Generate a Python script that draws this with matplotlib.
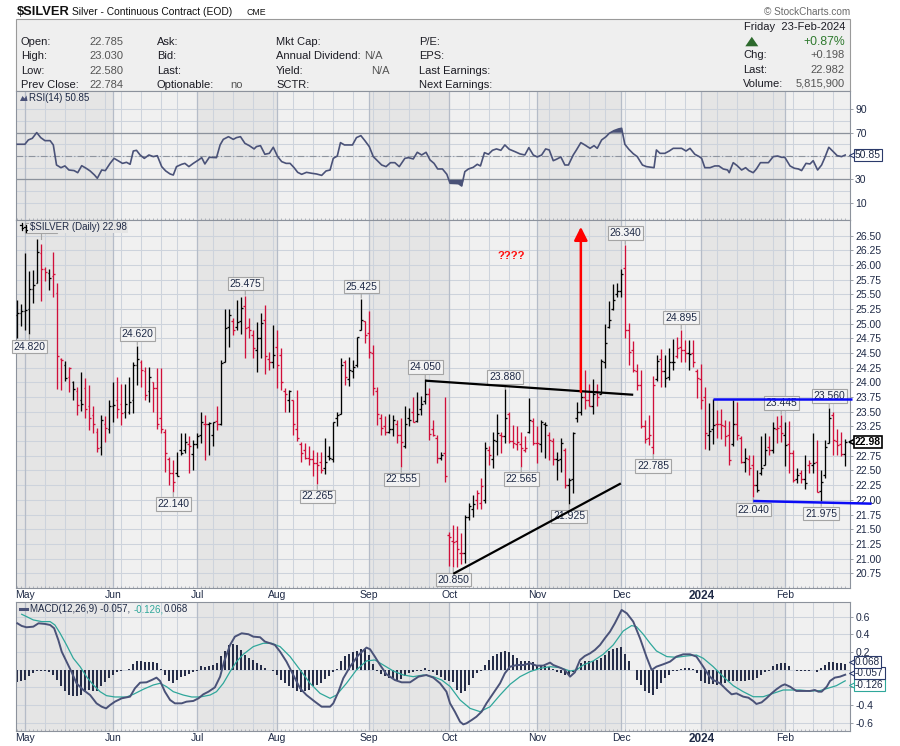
import numpy as np
import pandas as pd
import matplotlib
matplotlib.use("Agg")
import matplotlib.pyplot as plt
import matplotlib.transforms as mtransforms
from matplotlib.collections import LineCollection
from matplotlib.patches import Rectangle, Polygon
from matplotlib.lines import Line2D

plt.rcParams['font.family'] = ['Liberation Sans', 'DejaVu Sans']

# ---------------------------------------------------------------- data
holidays = ['2023-05-29', '2023-06-19', '2023-07-04', '2023-09-04', '2023-11-23',
            '2023-12-25', '2024-01-01', '2024-01-15', '2024-02-19']
first_day, last_day = '2023-04-27', '2024-02-23'

bar_open = [
    25.15, 25.18, 25.22, 25.25, 25.60, 25.70, 26.20, 25.94, 25.86, 25.82,
    25.53, 24.40, 24.30, 24.10, 24.00, 23.85, 23.70, 23.90, 23.60, 23.45,
    23.15, 22.90, 23.30, 23.20, 23.60, 23.70, 23.64, 23.50, 23.50, 23.70,
    24.30, 24.35, 24.20, 23.85, 24.00, 23.90, 23.40, 23.15, 22.70, 22.45,
    22.45, 22.85, 22.85, 22.95, 22.78, 22.95, 23.10, 23.30, 23.30, 23.10,
    23.35, 23.29, 24.35, 24.95, 25.05, 24.95, 25.05, 25.30, 24.95, 24.80,
    24.55, 24.75, 25.06, 24.40, 24.35, 24.60, 24.47, 23.85, 23.70, 23.70,
    23.20, 22.95, 22.85, 22.72, 22.70, 22.62, 22.65, 22.55, 22.75, 22.70,
    23.40, 23.47, 24.35, 24.05, 24.20, 24.30, 24.90, 25.05, 24.85, 24.50,
    23.85, 23.40, 23.25, 23.15, 23.20, 23.30, 23.10, 22.91, 23.40, 23.50,
    23.35, 23.55, 23.68, 23.80, 23.20, 23.05, 22.72, 22.80, 21.40, 21.30,
    21.30, 21.10, 21.10, 21.70, 21.85, 22.00, 21.95, 22.00, 22.85, 22.70,
    23.00, 23.10, 23.08, 23.46, 23.00, 22.95, 22.95, 22.85, 23.15, 23.35,
    22.96, 22.95, 23.30, 23.10, 23.00, 22.70, 22.70, 22.85, 22.25, 22.35,
    23.40, 23.50, 23.75, 23.70, 23.60, 23.85, 23.80, 24.35, 24.95, 25.25,
    25.50, 25.55, 25.95, 24.90, 24.55, 24.20, 23.95, 23.25, 23.05, 22.90,
    24.05, 24.40, 24.20, 24.10, 24.35, 24.45, 24.60, 24.55, 24.50, 24.50,
    24.20, 24.05, 23.75, 23.10, 23.20, 23.30, 23.30, 23.25, 23.10, 22.95,
    23.30, 23.05, 22.65, 22.70, 22.60, 22.25, 22.45, 22.60, 22.90, 22.85,
    23.20, 23.25, 23.10, 22.95, 22.80, 22.35, 22.45, 22.35, 22.60, 22.60,
    22.65, 22.15, 22.43, 22.96, 23.45, 23.00, 22.95, 22.785]
bar_high = [
    25.40, 25.33, 26.21, 25.89, 25.91, 26.44, 26.35, 25.97, 25.93, 26.22,
    25.69, 24.42, 24.37, 24.27, 24.03, 23.93, 24.18, 24.07, 23.95, 23.60,
    23.23, 23.45, 23.42, 23.70, 24.00, 24.10, 23.98, 23.98, 24.10, 24.35,
    24.62, 24.38, 24.27, 24.27, 24.01, 24.24, 24.24, 23.20, 22.73, 22.68,
    22.82, 23.13, 23.13, 23.08, 23.02, 23.13, 23.50, 23.45, 23.33, 23.33,
    23.59, 24.38, 25.25, 25.25, 25.09, 25.40, 25.46, 25.475, 25.09, 24.89,
    25.03, 25.18, 25.32, 24.52, 24.98, 24.89, 24.58, 23.90, 23.87, 23.70,
    23.87, 22.99, 22.96, 22.91, 22.85, 22.82, 22.82, 23.05, 22.91, 23.33,
    23.50, 24.41, 24.38, 24.44, 24.38, 24.78, 25.425, 25.05, 25.22, 24.64,
    23.93, 23.47, 23.42, 23.47, 23.45, 23.36, 23.40, 23.59, 23.56, 23.75,
    23.84, 23.77, 24.05, 23.91, 23.36, 23.10, 22.82, 23.75, 21.46, 21.57,
    21.56, 21.43, 21.74, 21.94, 22.08, 22.17, 22.37, 22.99, 22.91, 23.16,
    23.47, 23.16, 23.88, 23.49, 23.28, 23.25, 23.16, 23.08, 23.74, 23.39,
    23.25, 23.36, 23.33, 23.16, 23.05, 22.82, 23.05, 22.88, 22.37, 23.16,
    23.67, 23.85, 24.22, 23.98, 24.06, 23.98, 24.40, 25.00, 25.38, 25.67,
    25.69, 25.94, 26.34, 25.01, 24.70, 24.31, 24.21, 23.36, 23.44, 24.11,
    24.47, 24.57, 24.47, 24.58, 24.74, 24.78, 24.895, 24.72, 24.72, 24.72,
    24.23, 24.31, 23.93, 23.65, 23.72, 23.53, 23.54, 23.36, 23.35, 23.70,
    23.67, 23.09, 22.88, 22.76, 22.76, 22.51, 23.08, 23.14, 23.08, 23.33,
    23.42, 23.445, 23.33, 23.35, 22.85, 22.54, 22.51, 22.76, 22.68, 23.13,
    23.02, 22.51, 23.02, 23.56, 23.50, 23.20, 23.16, 23.03]
bar_low = [
    24.75, 24.96, 24.90, 24.82, 25.35, 25.69, 25.39, 25.72, 25.57, 25.46,
    23.88, 23.87, 24.03, 23.84, 23.70, 23.45, 23.52, 23.40, 23.19, 23.13,
    22.82, 22.76, 22.99, 23.13, 23.33, 23.40, 23.27, 23.39, 23.47, 23.48,
    23.95, 23.93, 23.70, 23.67, 23.50, 23.20, 23.13, 22.48, 22.25, 22.14,
    22.40, 22.76, 22.79, 22.45, 22.51, 22.88, 22.96, 22.68, 22.76, 22.91,
    23.19, 23.27, 24.35, 24.60, 24.81, 24.90, 24.83, 24.41, 24.75, 24.41,
    24.18, 24.41, 24.15, 24.21, 24.24, 23.90, 23.87, 23.50, 23.50, 23.10,
    23.00, 22.65, 22.70, 22.59, 22.40, 22.265, 22.45, 22.44, 22.68, 22.65,
    23.25, 23.47, 23.95, 23.94, 24.07, 24.27, 24.89, 24.67, 24.41, 23.78,
    23.28, 23.11, 23.11, 23.13, 23.08, 22.97, 22.555, 22.88, 23.25, 23.32,
    23.33, 23.45, 23.64, 23.02, 23.08, 22.62, 22.68, 22.30, 20.88, 20.85,
    20.86, 20.90, 20.92, 21.66, 21.71, 21.85, 21.85, 21.94, 22.59, 22.54,
    22.76, 22.79, 22.96, 22.96, 22.88, 22.85, 22.565, 22.82, 23.13, 22.93,
    22.62, 22.82, 22.71, 22.68, 22.60, 22.34, 22.48, 22.20, 21.925, 22.11,
    23.33, 23.45, 23.55, 23.59, 23.47, 23.60, 23.80, 24.25, 24.92, 25.23,
    25.46, 25.46, 24.76, 24.30, 24.18, 23.87, 23.22, 22.96, 22.93, 22.785,
    24.02, 23.93, 23.93, 24.04, 24.21, 24.41, 24.35, 24.35, 24.21, 24.27,
    23.73, 23.54, 22.86, 22.85, 22.95, 23.05, 23.03, 22.91, 22.60, 22.91,
    23.02, 22.62, 22.48, 22.42, 22.04, 22.14, 22.42, 22.59, 22.76, 22.79,
    22.96, 22.99, 22.57, 22.45, 22.31, 22.28, 22.28, 22.18, 22.45, 22.45,
    22.14, 21.975, 22.37, 22.96, 22.77, 22.77, 22.74, 22.58]
bar_close = [
    25.19, 25.21, 25.24, 25.59, 25.66, 26.22, 25.94, 25.88, 25.78, 25.85,
    24.45, 24.39, 24.08, 24.24, 23.89, 23.62, 23.63, 23.55, 23.39, 23.30,
    22.88, 23.36, 23.22, 23.59, 23.62, 23.55, 23.48, 23.64, 23.66, 24.30,
    24.40, 24.22, 23.79, 24.10, 23.90, 23.30, 23.20, 22.79, 22.45, 22.31,
    22.41, 22.80, 22.99, 22.91, 22.95, 23.09, 23.33, 23.30, 23.31, 23.32,
    23.30, 24.33, 24.93, 25.15, 24.89, 25.03, 25.26, 24.92, 24.90, 24.58,
    24.75, 25.02, 24.45, 24.35, 24.47, 24.30, 24.00, 23.81, 23.85, 23.30,
    23.05, 22.79, 22.72, 22.70, 22.63, 22.60, 22.51, 22.65, 22.72, 23.33,
    23.45, 24.30, 24.10, 24.21, 24.27, 24.77, 25.06, 24.81, 24.52, 23.91,
    23.47, 23.23, 23.16, 23.20, 23.36, 23.10, 22.99, 23.30, 23.36, 23.33,
    23.47, 23.64, 23.80, 23.12, 23.10, 22.71, 22.77, 22.41, 21.37, 21.29,
    21.16, 21.09, 21.70, 21.90, 21.93, 22.11, 22.23, 22.89, 22.76, 23.02,
    23.13, 23.08, 23.40, 23.00, 22.96, 22.99, 22.88, 22.88, 23.36, 22.96,
    22.96, 23.33, 23.27, 23.02, 22.69, 22.68, 22.96, 22.25, 22.34, 23.13,
    23.50, 23.75, 23.70, 23.60, 23.80, 23.75, 24.37, 24.67, 25.06, 25.40,
    25.56, 25.84, 24.89, 24.52, 24.21, 23.95, 23.25, 23.03, 23.10, 23.95,
    24.37, 24.20, 24.07, 24.35, 24.35, 24.58, 24.55, 24.50, 24.48, 24.35,
    24.07, 23.70, 23.14, 23.18, 23.27, 23.29, 23.27, 23.08, 22.68, 23.30,
    23.10, 22.65, 22.71, 22.55, 22.25, 22.17, 22.54, 22.85, 22.85, 23.22,
    23.22, 23.13, 22.93, 22.79, 22.34, 22.42, 22.35, 22.28, 22.62, 22.62,
    22.14, 22.30, 22.90, 23.40, 23.02, 22.93, 22.784, 22.982]
bar_color = ("bbbbbbrrbr" "rrbrbrbrrr" "rbrbbrrbbb" "brrbrrrrrr" "bbbrbbbrbb"
             "rbbbrbbrrr" "bbrrbrrrbr" "rrrrrrrbbb" "bbrbbbbrrr" "rrrbbrrbbr"
             "bbbrrrbrrr" "rrbbbrrbrb" "brbrrrrrbr" "rbbrrbbrbb" "bbrrbrbbbb"
             "bbrrrrrrrr" "brbbbrrrbr" "rrrbbrrrrb" "rrbrrbbbrb" "rrbrrbrbrb"
             "rbbbrrrb")

label_high_bars = [30, 57, 86, 102, 122, 152, 166, 191, 203]
label_low_bars = [3, 39, 75, 96, 109, 126, 138, 159, 184, 201]

rsi_pts = [
    (0.0, 60.1), (1.9, 60.1), (2.75, 63.8), (3.75, 65.2), (4.85, 70.1), (5.85, 65.8),
    (6.9, 63.2), (8.2, 63.2), (9.0, 59.5), (9.8, 42.3), (10.9, 40.0), (11.9, 41.5),
    (12.9, 38.0), (14.2, 37.5), (15.1, 35.7), (16.1, 41.7), (17.2, 39.5), (18.2, 37.2),
    (19.3, 33.7), (20.0, 30.9), (21.1, 38.0), (22.0, 37.5), (23.2, 43.7), (24.2, 48.0),
    (25.3, 45.7), (26.3, 43.7), (27.3, 44.6), (28.2, 42.9), (29.0, 54.3), (29.8, 54.9),
    (30.7, 50.9), (31.75, 48.0), (32.9, 50.9), (34.0, 49.5), (35.0, 50.3), (36.1, 40.9),
    (37.1, 37.2), (38.2, 34.6), (39.0, 33.7), (39.8, 40.9), (41.1, 42.9), (41.9, 43.7),
    (42.9, 40.9), (44.0, 43.7), (45.3, 46.6), (46.1, 48.6), (46.9, 43.2), (48.0, 48.9),
    (49.8, 48.6), (50.7, 59.5), (51.5, 64.3), (52.8, 66.6), (54.0, 64.3), (54.8, 65.8),
    (55.8, 66.6), (56.9, 60.9), (58.0, 58.9), (59.2, 56.1), (59.8, 58.1), (60.8, 58.9),
    (61.9, 51.5), (63.0, 52.3), (64.0, 57.5), (65.1, 49.5), (66.1, 45.2), (67.2, 43.7),
    (68.2, 43.7), (69.2, 40.0), (70.1, 36.0), (71.1, 34.3), (72.3, 36.0), (73.6, 35.2),
    (74.8, 34.6), (76.1, 33.4), (77.2, 37.2), (78.2, 38.0), (79.0, 48.0), (80.0, 50.0),
    (80.8, 61.5), (81.8, 59.5), (83.8, 59.5), (84.8, 65.8), (85.9, 67.5), (86.9, 63.2),
    (88.0, 58.1), (89.0, 49.5), (90.1, 45.7), (91.1, 42.3), (92.2, 40.9), (93.3, 44.3),
    (94.4, 44.3), (95.5, 40.9), (96.9, 48.0), (97.8, 48.6), (99.0, 47.5), (100.0, 53.2),
    (101.1, 50.9), (102.2, 53.2), (103.2, 46.6), (104.2, 43.7), (105.1, 38.9), (106.3, 38.9),
    (107.4, 34.3), (108.2, 26.6), (110.3, 26.3), (111.1, 24.3), (111.9, 36.6), (112.8, 38.9),
    (114.0, 40.3), (115.0, 42.9), (115.8, 41.5), (116.8, 52.9), (117.8, 51.5), (118.8, 54.9),
    (119.8, 56.1), (120.9, 54.9), (121.9, 59.5), (123.0, 55.8), (124.4, 53.8), (125.7, 51.8),
    (126.9, 50.9), (127.9, 57.2), (129.0, 50.9), (130.0, 49.2), (131.1, 50.9), (132.1, 56.1),
    (133.0, 55.2), (134.0, 46.0), (134.8, 47.2), (135.9, 49.2), (136.9, 42.3), (137.8, 42.3),
    (139.0, 50.9), (139.8, 55.2), (140.9, 61.5), (141.9, 59.5), (143.2, 56.6), (144.2, 58.9),
    (145.0, 56.6), (146.1, 63.8), (147.2, 66.6), (148.0, 69.5), (149.2, 71.8), (150.3, 73.2),
    (151.1, 73.8), (151.9, 60.1), (152.9, 55.8), (154.0, 52.0), (155.0, 49.5), (156.3, 42.3),
    (157.3, 40.9), (158.6, 40.3), (159.2, 40.0), (159.8, 55.2), (160.7, 52.3), (161.9, 52.3),
    (163.0, 54.3), (164.0, 56.6), (166.1, 56.6), (167.2, 54.3), (168.2, 56.6), (169.4, 51.5),
    (170.5, 49.5), (171.1, 48.0), (171.9, 40.0), (173.2, 40.0), (174.4, 41.5), (175.4, 41.5),
    (176.5, 38.9), (177.6, 38.0), (178.0, 35.7), (179.0, 44.3), (180.0, 41.7), (181.1, 38.0),
    (182.1, 40.0), (182.9, 37.5), (184.0, 35.7), (184.8, 38.9), (185.8, 44.3), (187.8, 44.3),
    (189.0, 49.5), (190.1, 50.0), (191.1, 48.9), (191.9, 48.9), (193.2, 41.5), (194.3, 39.5),
    (195.3, 38.9), (196.1, 37.5), (197.2, 43.7), (198.2, 43.2), (199.0, 46.0), (200.1, 38.0),
    (201.1, 42.3), (201.9, 48.6), (202.9, 57.5), (204.0, 53.8), (205.0, 50.3), (206.1, 49.5),
    (207.0, 50.85)]

macd_pts = [
    (0.0, 0.525), (1.1, 0.495), (2.3, 0.480), (4.0, 0.487), (5.3, 0.525), (6.9, 0.518),
    (8.2, 0.506), (9.2, 0.469), (10.25, 0.336), (11.1, 0.204), (12.3, 0.091), (13.6, -0.030),
    (14.8, -0.154), (16.5, -0.230), (18.2, -0.287), (19.8, -0.381), (21.1, -0.419), (22.2, -0.438),
    (23.2, -0.400), (24.4, -0.362), (26.1, -0.324), (28.2, -0.305), (29.4, -0.211), (30.7, -0.147),
    (32.3, -0.143), (33.6, -0.117), (34.8, -0.090), (35.7, -0.128), (36.9, -0.249), (38.2, -0.343),
    (39.4, -0.381), (41.1, -0.381), (42.3, -0.362), (44.0, -0.354), (45.3, -0.324), (46.5, -0.279),
    (47.8, -0.249), (49.4, -0.200), (50.7, -0.079), (51.7, 0.091), (53.2, 0.280), (54.4, 0.374),
    (56.1, 0.412), (57.8, 0.401), (59.0, 0.374), (60.7, 0.367), (61.9, 0.318), (63.2, 0.299),
    (64.4, 0.280), (65.7, 0.204), (67.3, 0.091), (69.0, -0.060), (70.7, -0.211), (72.3, -0.287),
    (74.4, -0.362), (76.1, -0.419), (78.2, -0.419), (79.0, -0.381), (80.3, -0.249), (81.5, -0.098),
    (83.2, 0.034), (85.3, 0.166), (87.3, 0.250), (88.2, 0.231), (89.4, 0.148), (90.7, 0.053),
    (92.3, -0.052), (94.4, -0.117), (96.1, -0.143), (98.2, -0.143), (100.3, -0.079), (102.3, -0.060),
    (104.0, -0.090), (105.7, -0.154), (107.3, -0.249), (108.2, -0.381), (109.4, -0.475), (110.7, -0.589),
    (111.5, -0.619), (112.3, -0.607), (113.6, -0.570), (114.8, -0.532), (116.1, -0.475), (117.3, -0.381),
    (119.0, -0.268), (120.7, -0.154), (121.9, -0.041), (123.2, 0.034), (124.9, 0.053), (126.5, 0.053),
    (128.2, 0.072), (129.8, 0.046), (131.5, 0.046), (133.2, 0.080), (134.0, 0.053), (135.7, 0.023),
    (136.9, -0.003), (138.2, -0.079), (139.4, -0.030), (140.7, 0.110), (141.9, 0.155), (143.2, 0.185),
    (144.4, 0.223), (145.7, 0.280), (146.9, 0.355), (148.2, 0.431), (149.4, 0.525), (151.1, 0.676),
    (152.4, 0.638), (154.0, 0.544), (155.7, 0.355), (157.3, 0.148), (158.6, -0.003), (159.8, 0.034),
    (161.5, 0.061), (163.2, 0.091), (164.8, 0.148), (166.5, 0.174), (168.2, 0.174), (169.8, 0.148),
    (171.5, 0.034), (172.8, -0.060), (174.0, -0.117), (175.7, -0.154), (177.4, -0.230), (178.6, -0.279),
    (179.8, -0.268), (181.5, -0.305), (182.8, -0.317), (184.0, -0.355), (184.8, -0.388), (186.1, -0.370),
    (187.3, -0.324), (188.6, -0.268), (189.8, -0.222), (191.1, -0.181), (191.9, -0.166), (193.2, -0.192),
    (194.8, -0.241), (196.5, -0.241), (198.2, -0.241), (199.4, -0.230), (200.3, -0.249), (201.1, -0.249),
    (202.4, -0.192), (203.2, -0.128), (204.4, -0.090), (205.7, -0.079), (207.0, -0.057)]

signal_pts = [
    (1.1, 0.627), (2.3, 0.601), (4.0, 0.563), (6.1, 0.544), (8.2, 0.544), (9.4, 0.506),
    (10.7, 0.412), (12.3, 0.280), (14.0, 0.129), (15.7, 0.034), (17.3, -0.079), (19.0, -0.173),
    (20.7, -0.249), (22.3, -0.294), (24.4, -0.309), (27.3, -0.309), (29.0, -0.279), (31.5, -0.222),
    (34.0, -0.173), (35.7, -0.154), (37.3, -0.192), (39.0, -0.249), (41.5, -0.287), (43.6, -0.309),
    (45.7, -0.309), (48.2, -0.287), (49.8, -0.249), (51.5, -0.154), (53.2, -0.022), (54.8, 0.091),
    (56.5, 0.174), (59.0, 0.261), (61.5, 0.299), (63.6, 0.299), (65.7, 0.261), (68.2, 0.148),
    (70.7, -0.003), (73.2, -0.154), (75.7, -0.268), (78.2, -0.324), (79.8, -0.287), (82.3, -0.154),
    (84.8, -0.003), (87.3, 0.099), (89.4, 0.110), (91.5, 0.053), (94.0, -0.015), (96.5, -0.060),
    (99.0, -0.079), (101.5, -0.060), (104.0, -0.079), (106.1, -0.117), (108.2, -0.190),
    (110.7, -0.343), (113.2, -0.438), (115.7, -0.475), (118.2, -0.419), (120.7, -0.287),
    (123.2, -0.166), (125.7, -0.079), (128.2, -0.022), (130.7, 0.015), (133.2, 0.034),
    (135.7, 0.023), (138.2, -0.015), (139.8, -0.003), (141.5, 0.053), (144.0, 0.099),
    (146.5, 0.174), (149.0, 0.280), (151.5, 0.438), (153.6, 0.499), (154.8, 0.487),
    (156.5, 0.401), (158.2, 0.299), (159.8, 0.212), (162.4, 0.148), (164.8, 0.140),
    (167.3, 0.155), (169.8, 0.166), (171.5, 0.129), (174.0, 0.034), (176.5, -0.079),
    (179.0, -0.181), (181.5, -0.249), (184.0, -0.306), (186.5, -0.306), (189.0, -0.268),
    (191.5, -0.230), (193.2, -0.230), (195.7, -0.230), (198.2, -0.241), (200.7, -0.237),
    (203.2, -0.203), (204.8, -0.181), (207.0, -0.126)]

hist_vals = [
    -0.140, -0.132, -0.113, -0.075, -0.038, -0.019, -0.011, -0.019, -0.026, -0.057,
    -0.113, -0.189, -0.245, -0.283, -0.302, -0.302, -0.283, -0.253, -0.227, -0.245,
    -0.245, -0.189, -0.140, -0.094, -0.057, -0.030, -0.011, -0.004, 0.011, 0.064,
    0.102, 0.094, 0.083, 0.083, 0.083, 0.075, 0.011, -0.057, -0.125, -0.151,
    -0.113, -0.087, -0.068, -0.045, -0.026, -0.011, 0.038, 0.026, 0.038, 0.049,
    0.075, 0.151, 0.215, 0.276, 0.291, 0.283, 0.227, 0.170, 0.132, 0.113,
    0.075, 0.057, 0.019, 0.002, -0.011, -0.057, -0.113, -0.151, -0.189, -0.208,
    -0.245, -0.253, -0.245, -0.227, -0.189, -0.170, -0.151, -0.102, -0.075, -0.026,
    0.008, 0.102, 0.151, 0.177, 0.200, 0.215, 0.238, 0.238, 0.170, 0.064,
    -0.019, -0.045, -0.075, -0.094, -0.094, -0.113, -0.102, -0.075, -0.038, -0.026,
    -0.019, -0.011, 0.019, -0.011, -0.026, -0.057, -0.087, -0.113, -0.125, -0.140,
    -0.227, -0.264, -0.245, -0.170, -0.094, -0.038, -0.011, 0.057, 0.113, 0.151,
    0.177, 0.200, 0.215, 0.200, 0.162, 0.132, 0.102, 0.094, 0.102, 0.083,
    0.057, 0.049, 0.038, 0.026, 0.011, -0.026, -0.038, -0.057, -0.064, -0.026,
    0.019, 0.075, 0.094, 0.094, 0.102, 0.113, 0.132, 0.170, 0.208, 0.238,
    0.245, 0.253, 0.177, 0.094, 0.002, -0.113, -0.170, -0.245, -0.264, -0.283,
    -0.215, -0.151, -0.094, -0.057, -0.019, -0.011, 0.011, 0.019, 0.019, 0.011,
    -0.038, -0.125, -0.151, -0.162, -0.162, -0.170, -0.177, -0.151, -0.125, -0.132,
    -0.125, -0.125, -0.125, -0.113, -0.113, -0.094, -0.057, -0.026, -0.011, 0.038,
    0.064, 0.075, 0.075, 0.038, 0.002, -0.011, -0.019, -0.019, -0.011, 0.002,
    -0.026, 0.019, 0.057, 0.087, 0.083, 0.075, 0.075, 0.068]

price_ticks = [20.75, 21.00, 21.25, 21.50, 21.75, 22.00, 22.25, 22.50, 22.75, 23.00, 23.25,
               23.50, 23.75, 24.00, 24.25, 24.50, 24.75, 25.00, 25.25, 25.50, 25.75, 26.00,
               26.25, 26.50]
rsi_ticks = [10, 30, 70, 90]
macd_ticks = [-0.6, -0.4, -0.2, 0.2, 0.4, 0.6]

# trend / annotation lines (bar index, price)
resist_line = [(102, 24.03), (154.0, 23.79)]
support_line = [(109.0, 20.74), (150.9, 22.28)]
range_top = [(174.0, 23.71), (208.6, 23.71)]
range_bottom = [(184.0, 21.98), (213.6, 21.935)]
red_arrow = [(140.9, 23.84), (140.9, 26.65)]
question_pos = (123.4, 26.16)

last_price_txt, rsi_last_txt = '22.98', '50.85'
macd_last = (-0.057, -0.126, 0.068)

hdr_col1 = ['Open:', 'High:', 'Low:', 'Prev Close:']
hdr_col1_vals = ['22.785', '23.030', '22.580', '22.784']
hdr_col2 = ['Ask:', 'Bid:', 'Last:', 'Optionable:']
hdr_col3 = ['Mkt Cap:', 'Annual Dividend:', 'Yield:', 'SCTR:']
hdr_col4 = ['P/E:', 'EPS:', 'Last Earnings:', 'Next Earnings:']

assert len(bar_open) == len(bar_high) == len(bar_low) == len(bar_close) == len(bar_color) == len(hist_vals) == 208

# ---------------------------------------------------------------- style
W, H = 900, 746
NAVY = '#1f2a46'
GRID = '#cdd3dc'
MGRID = '#b5bcc8'
SPINE = '#8c929c'
BG = '#f0f0f0'
BAND = '#e5e5e5'
RED = '#d00f3a'
SLATE = '#4a5278'
TEAL = '#2fa79b'

fig = plt.figure(figsize=(9, 7.46), dpi=100)
fig.patch.set_facecolor('white')


def fx(px):
    return px / W


def fy(py):
    return 1 - py / H


def ftext(px, py, s, **kw):
    kw.setdefault('va', 'center')
    return fig.text(fx(px), fy(py), s, **kw)


dates = pd.bdate_range(first_day, last_day, freq='C', holidays=holidays)
N = len(dates)
xi = np.arange(N)
mstart = [i for i in range(1, N) if dates[i].month != dates[i - 1].month]
wstart = [i for i in range(1, N) if dates[i].weekday() < dates[i - 1].weekday()]
mlabels = [str(dates[i].year) if dates[i].month == 1 else dates[i].strftime('%b') for i in mstart]

XMIN, XMAX = -0.33, 208.2
bands = []
for j, i in enumerate(mstart):
    if dates[i].month in (5, 7, 9, 11, 1):
        a = XMIN if j == 0 else i
        b = mstart[j + 1] if j + 1 < len(mstart) else XMAX
        bands.append((a, b))

left, width = fx(16), (850 - 16) / W
ax_r = fig.add_axes([left, fy(220), width, (220 - 91) / H])
ax_p = fig.add_axes([left, fy(588), width, (588 - 220) / H])
ax_m = fig.add_axes([left, fy(731), width, (731 - 602) / H])


def style(ax, ylim, yticks, ygrid, fmt, xlabels=True):
    ax.set_facecolor(BG)
    ax.set_xlim(XMIN, XMAX)
    ax.set_ylim(*ylim)
    for a, b in bands:
        ax.axvspan(a, b, color=BAND, lw=0, zorder=0)
    for w in wstart:
        ax.axvline(w, color=GRID, lw=0.75, zorder=0.5)
    for m in mstart:
        ax.axvline(m, color=MGRID, lw=0.9, zorder=0.6)
    for g in ygrid:
        ax.axhline(g, color=GRID, lw=0.75, zorder=0.5)
    for s in ax.spines.values():
        s.set_color(SPINE)
        s.set_linewidth(0.8)
    ax.yaxis.tick_right()
    ax.set_yticks(yticks)
    ax.set_yticklabels([fmt % t for t in yticks])
    ax.tick_params(axis='y', labelsize=7.5, labelcolor=NAVY, color=SPINE,
                   length=2.5, width=0.6, pad=1.2)
    ax.set_xticks(mstart)
    ax.set_xticks(xi, minor=True)
    ax.tick_params(axis='x', which='minor', length=1.5, direction='in',
                   color='#9aa0aa', width=0.5)
    if xlabels:
        ax.set_xticklabels(mlabels)
        ax.tick_params(axis='x', which='major', length=0, labelsize=7.5,
                       labelcolor=NAVY, pad=1.5)
        for lab in ax.get_xticklabels():
            if lab.get_text().isdigit():
                lab.set_fontweight('bold')
                lab.set_fontsize(8.5)
    else:
        ax.tick_params(axis='x', which='major', length=0, labelbottom=False)


# ---------------------------------------------------------------- RSI
style(ax_r, (-4.9, 105.8), rsi_ticks, range(10, 100, 10), '%d', xlabels=False)
ax_r.axhline(70, color=SPINE, lw=0.9, zorder=1)
ax_r.axhline(30, color=SPINE, lw=0.9, zorder=1)
ax_r.axhline(50, color='#8e949e', lw=0.8, ls=(0, (6, 2, 1, 2)), zorder=1)
rx = np.array([p[0] for p in rsi_pts])
ry = np.array([p[1] for p in rsi_pts])
ax_r.fill_between(rx, ry, 70, where=ry >= 70, interpolate=True, color=SLATE, lw=0, zorder=2)
ax_r.fill_between(rx, ry, 30, where=ry <= 30, interpolate=True, color=SLATE, lw=0, zorder=2)
ax_r.plot(rx, ry, color=SLATE, lw=1.2, zorder=3)

# ---------------------------------------------------------------- price
style(ax_p, (20.498, 26.767), price_ticks, price_ticks, '%.2f')
segs, cols = [], []
for k in range(N):
    col = RED if bar_color[k] == 'r' else '#000000'
    segs += [[(k, bar_low[k]), (k, bar_high[k])],
             [(k - 0.45, bar_open[k]), (k, bar_open[k])],
             [(k, bar_close[k]), (k + 0.45, bar_close[k])]]
    cols += [col] * 3
ax_p.add_collection(LineCollection(segs, colors=cols, linewidths=0.95, zorder=3))

LBL = dict(fontsize=7.5, color=NAVY, ha='center', zorder=6, annotation_clip=False,
           bbox=dict(boxstyle='square,pad=0.17', fc='#f3f3f3', ec='#a4a4a4', lw=0.8),
           arrowprops=dict(arrowstyle='-', color='#a4a4a4', lw=0.8, shrinkA=0, shrinkB=0.5))
for k in label_high_bars:
    ax_p.annotate('%.3f' % bar_high[k], xy=(k, bar_high[k]), xytext=(0, 5.2),
                  textcoords='offset points', va='bottom', **LBL)
for k in label_low_bars:
    ax_p.annotate('%.3f' % bar_low[k], xy=(k, bar_low[k]), xytext=(0, -5.2),
                  textcoords='offset points', va='top', **LBL)

for ln in (resist_line, support_line):
    ax_p.plot([p[0] for p in ln], [p[1] for p in ln], color='black', lw=1.6,
              zorder=7, solid_capstyle='butt')
for ln in (range_top, range_bottom):
    ax_p.plot([p[0] for p in ln], [p[1] for p in ln], color='#0b0bf5', lw=1.8,
              zorder=7, clip_on=False, solid_capstyle='butt')
ax_p.annotate('', xy=red_arrow[1], xytext=red_arrow[0],
              arrowprops=dict(arrowstyle='-|>', color='#ff0000', lw=1.8,
                              mutation_scale=20, shrinkA=0, shrinkB=0), zorder=7)
ax_p.text(question_pos[0], question_pos[1], '????', color='#ff1010', fontsize=8.2,
          fontweight='bold', ha='center', va='center', zorder=7)

# ---------------------------------------------------------------- MACD
style(ax_m, (-0.694, 0.766), macd_ticks, [-0.6, -0.4, -0.2, 0, 0.2, 0.4, 0.6], '%.1f')
ax_m.bar(xi, hist_vals, width=0.42, color='#262d48', zorder=2, lw=0)
ax_m.plot([p[0] for p in signal_pts], [p[1] for p in signal_pts], color=TEAL, lw=0.9, zorder=3)
ax_m.plot([p[0] for p in macd_pts], [p[1] for p in macd_pts], color=SLATE, lw=1.4, zorder=4)


# ---------------------------------------------------------------- value tags
def value_tag(ax, yv, txt, ec, tc, bold=False, lw=0.8, ypos=None, z=11, fs=7.5):
    ypos = yv if ypos is None else ypos
    tr = ax.get_yaxis_transform()
    trm = mtransforms.offset_copy(tr, fig=fig, x=3.2, y=0, units='dots')
    ax.plot([1.0], [ypos], marker='<', ms=6.0, mfc='white', mec=ec, mew=lw,
            transform=trm, clip_on=False, zorder=z)
    ax.annotate(txt, xy=(1.0, ypos), xycoords=tr, xytext=(3.6, 0), textcoords='offset points',
                ha='left', va='center', fontsize=fs, color=tc,
                fontweight='bold' if bold else 'normal',
                bbox=dict(boxstyle='square,pad=0.1', fc='white', ec=ec, lw=lw),
                annotation_clip=False, zorder=z + 0.5)


value_tag(ax_r, float(rsi_last_txt), rsi_last_txt, '#2b3a6b', NAVY)
value_tag(ax_p, float(last_price_txt), last_price_txt, 'black', 'black', bold=True, lw=1.2)
value_tag(ax_m, macd_last[2], '%.3f' % macd_last[2], '#2b3a6b', NAVY, ypos=0.0815, z=13, fs=7.2)
value_tag(ax_m, macd_last[1], '%.3f' % macd_last[1], TEAL, NAVY, ypos=-0.168, z=11, fs=7.2)
value_tag(ax_m, macd_last[0], '%.3f' % macd_last[0], '#2b3a6b', NAVY, ypos=-0.043, z=12, fs=7.2)

# ---------------------------------------------------------------- panel legends
ftext(28.5, 98.0, 'RSI(14) %s' % rsi_last_txt, fontsize=7, color=NAVY)
fig.add_artist(Polygon([(fx(20), fy(101)), (fx(22.5), fy(96)), (fx(24.5), fy(98.5)),
                        (fx(26.5), fy(95.5)), (fx(27.5), fy(101))],
                       closed=True, transform=fig.transFigure, fc=SLATE, ec='none'))
# label box of the May high, mostly hidden behind the panel legend
fig.add_artist(Rectangle((fx(25), fy(233)), 32 / W, 10 / H, transform=fig.transFigure,
                         fc='#f3f3f3', ec='#a4a4a4', lw=0.8, zorder=18))
fig.add_artist(Line2D([fx(41), fx(41)], [fy(233), fy(238.5)], transform=fig.transFigure,
                      color='#a4a4a4', lw=0.8, zorder=18))
ftext(30, 227.0, '$SILVER (Daily) %s' % last_price_txt, fontsize=7, color=NAVY,
      bbox=dict(boxstyle='square,pad=0.1', fc=BAND, ec='none'), zorder=20)
for gx, y1, y2 in ((21.5, 223, 230), (25.5, 224.5, 231.5)):
    fig.add_artist(Line2D([fx(gx), fx(gx)], [fy(y1), fy(y2)], transform=fig.transFigure,
                          color='black', lw=0.9, zorder=21))
    fig.add_artist(Line2D([fx(gx - 1.5), fx(gx)], [fy(y1 + 2), fy(y1 + 2)],
                          transform=fig.transFigure, color='black', lw=0.9, zorder=21))
    fig.add_artist(Line2D([fx(gx), fx(gx + 1.5)], [fy(y2 - 2), fy(y2 - 2)],
                          transform=fig.transFigure, color='black', lw=0.9, zorder=21))
fig.add_artist(Line2D([fx(20), fx(27)], [fy(609), fy(609)], transform=fig.transFigure,
                      color=SLATE, lw=2.2))
ftext(30, 609, 'MACD(12,26,9) %.3f,' % macd_last[0], fontsize=7, color=NAVY)
ftext(133.3, 609, '%.3f,' % macd_last[1], fontsize=7, color=TEAL)
ftext(163.3, 609, '%.3f' % macd_last[2], fontsize=7, color=NAVY)

# ---------------------------------------------------------------- header
fig.add_artist(Rectangle((fx(16), fy(91)), (850 - 16) / W, (91 - 19) / H,
                         transform=fig.transFigure, fc='#efefef', ec='#9a9a9a', lw=0.8, zorder=0))
ftext(16.5, 15, '$SILVER', fontsize=9.3, fontweight='bold', color='#111111', va='baseline')
ftext(71.7, 15, 'Silver - Continuous Contract (EOD)', fontsize=7.4, color='#111111', va='baseline')
ftext(246.7, 15, 'CME', fontsize=6.3, color='#111111', va='baseline')
ftext(850, 15, '\u00a9 StockCharts.com', fontsize=7.2, color='#6a6a6a', va='baseline', ha='right')

HFS = 8.0
LBLC, VALC = '#1c1c24', '#555555'
rows = [41.7, 56.0, 70.6, 85.0]
for r, a, v, b, c3, d in zip(rows, hdr_col1, hdr_col1_vals, hdr_col2, hdr_col3, hdr_col4):
    ftext(20.7, r, a, fontsize=HFS, color=LBLC)
    ftext(123.3, r, v, fontsize=HFS, color=VALC, ha='right')
    ftext(156.7, r, b, fontsize=HFS, color=LBLC)
    ftext(276.0, r, c3, fontsize=HFS, color=LBLC)
    ftext(419.3, r, d, fontsize=HFS, color=LBLC)
ftext(230.0, rows[3], 'no', fontsize=HFS, color=VALC)
ftext(364.0, rows[1], 'N/A', fontsize=HFS, color=VALC)
ftext(390.0, rows[2], 'N/A', fontsize=HFS, color=VALC, ha='right')

ftext(845, 26.7, 'Friday  23-Feb-2024', fontsize=HFS, color=LBLC, ha='right')
fig.add_artist(Polygon([(fx(745.3), fy(46.3)), (fx(758.3), fy(46.3)), (fx(751.8), fy(36.8))],
                       closed=True, transform=fig.transFigure, fc='#2d6a2d', ec='none'))
ftext(845, 41.7, '+0.87%', fontsize=HFS + 0.8, color='#2f7a2f', ha='right')
ftext(743.3, 55.3, 'Chg:', fontsize=HFS, color=LBLC)
ftext(845, 55.3, '+0.198', fontsize=HFS, color=VALC, ha='right')
ftext(743.3, 69.6, 'Last:', fontsize=HFS, color=LBLC)
ftext(845, 69.6, '22.982', fontsize=HFS, color=VALC, ha='right')
ftext(743.3, 84.0, 'Volume:', fontsize=HFS, color=LBLC)
ftext(845, 84.0, '5,815,900', fontsize=HFS, color=VALC, ha='right')

fig.savefig('out.png', dpi=100, facecolor='white')
